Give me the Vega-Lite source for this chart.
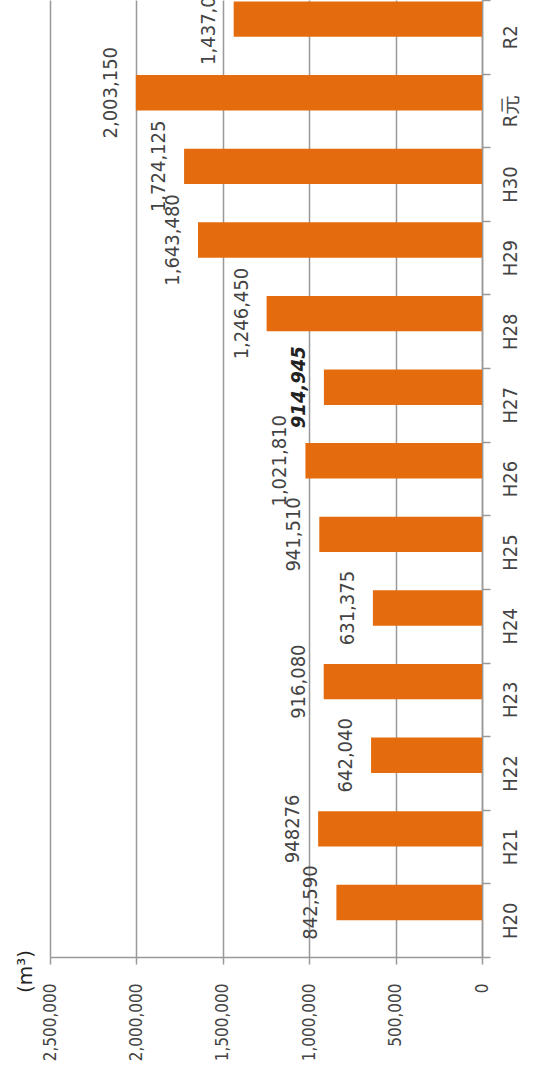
{
  "$schema": "https://vega.github.io/schema/vega-lite/v6.json",
  "autosize": {"type": "none"},
  "padding": {"left": 50, "top": 0, "right": 51, "bottom": 116},
  "width": 432,
  "height": 957,
  "background": "white",
  "config": {"view": {"stroke": null}, "font": "'DejaVu Sans Condensed', 'Liberation Sans', sans-serif"},
  "title": {"text": "(m³)", "orient": "left", "anchor": "start", "frame": "group", "offset": 5, "dx": -36, "fontSize": 20, "fontWeight": "normal", "color": "#222", "font": "DejaVu Sans"},
  "data": {"values": [
    {"year": "H20", "series": "A", "value": 842590, "label": "842,590"},
    {"year": "H21", "series": "A", "value": 948276, "label": "948276"},
    {"year": "H22", "series": "A", "value": 642040, "label": "642,040"},
    {"year": "H23", "series": "A", "value": 916080, "label": "916,080"},
    {"year": "H24", "series": "A", "value": 631375, "label": "631,375"},
    {"year": "H25", "series": "A", "value": 941510, "label": "941,510"},
    {"year": "H26", "series": "A", "value": 1021810, "label": "1,021,810"},
    {"year": "H27", "series": "A", "value": 914945, "label": "914,945"},
    {"year": "H28", "series": "A", "value": 1246450, "label": "1,246,450"},
    {"year": "H29", "series": "A", "value": 1643480, "label": "1,643,480"},
    {"year": "H30", "series": "A", "value": 1724125, "label": "1,724,125"},
    {"year": "R元", "series": "A", "value": 2003150, "label": "2,003,150"},
    {"year": "R2", "series": "A", "value": 1437080, "label": "1,437,080"}
  ]},
  "encoding": {
    "y": {
      "field": "year", "type": "nominal",
      "scale": {"domain": ["R2", "R元", "H30", "H29", "H28", "H27", "H26", "H25", "H24", "H23", "H22", "H21", "H20"], "paddingInner": 0, "paddingOuter": 0},
      "axis": {
        "orient": "right", "title": null, "labelAngle": -90, "labelAlign": "center", "labelBaseline": "top",
        "labelFontSize": 20, "labelColor": "#444", "labelPadding": 10, "tickBand": "extent",
        "tickSize": 8, "tickColor": "#999", "tickWidth": 1.5, "domainColor": "#999", "domainWidth": 1.5, "grid": false
      }
    },
    "yOffset": {"field": "series", "type": "nominal", "scale": {"domain": ["A", "B"], "paddingInner": 0, "paddingOuter": 0.04}},
    "x": {
      "field": "value", "type": "quantitative",
      "scale": {"domain": [0, 2500000], "reverse": true, "nice": false},
      "axis": {
        "orient": "bottom", "title": null, "values": [0, 500000, 1000000, 1500000, 2000000, 2500000], "format": ",d",
        "labelAngle": -90, "labelAlign": "right", "labelBaseline": "middle", "labelFontSize": 17, "labelColor": "#444",
        "labelPadding": 19, "tickSize": 7, "tickColor": "#999", "tickWidth": 1.5,
        "domainColor": "#999", "domainWidth": 1.5, "grid": true, "gridColor": "#999", "gridWidth": 1.5
      }
    }
  },
  "layer": [
    {"mark": {"type": "bar", "color": "#E46C0E"}},
    {
      "transform": [{"filter": "datum.year != 'H27'"}],
      "mark": {"type": "text", "angle": -90, "align": "center", "baseline": "bottom", "dy": -15, "fontSize": 20, "color": "#444"},
      "encoding": {"text": {"field": "label"}}
    },
    {
      "transform": [{"filter": "datum.year == 'H27'"}],
      "mark": {"type": "text", "angle": -90, "align": "center", "baseline": "bottom", "dy": -15, "fontSize": 20, "color": "#222", "fontWeight": "bold", "fontStyle": "italic"},
      "encoding": {"text": {"field": "label"}}
    }
  ]
}
